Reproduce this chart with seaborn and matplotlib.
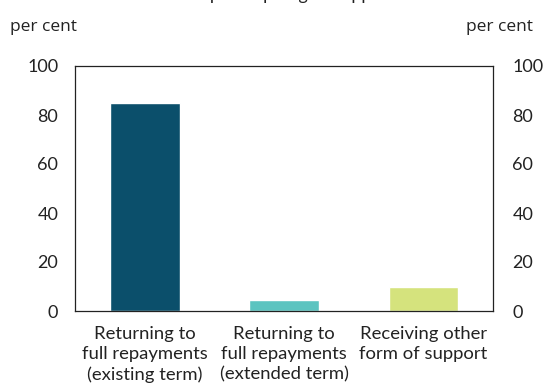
import pandas as pd
import numpy as np
import matplotlib.pyplot as plt
import seaborn as sns

# Data
categories = ['Returning to\nfull repayments\n(existing term)',
              'Returning to\nfull repayments\n(extended term)',
              'Receiving other\nform of support']
shares = [85, 4.5, 10]
colours = ['#0b4f6b', '#5cc4c0', '#d5e37d']
yticks = [0, 20, 40, 60, 80, 100]

df = pd.DataFrame({'category': categories, 'share': shares})

sns.set_style('white')
plt.rcParams['font.family'] = ['Lato', 'DejaVu Sans']

fig = plt.figure(figsize=(5.47, 3.87), dpi=100)
ax = fig.add_axes([75 / 547, 1 - 311 / 387, 418 / 547, 245 / 387])

sns.barplot(data=df, x='category', y='share', hue='category', palette=colours,
            width=0.5, legend=False, ax=ax, saturation=1)

ax.set_ylim(0, 100)
ax.set_yticks(yticks)
ax.set_xlabel('')
ax.set_ylabel('')
ax.tick_params(axis='y', length=0, labelsize=13, colors='#222222', pad=12)
ax.tick_params(axis='x', length=0, labelsize=13.3, colors='#222222', pad=11)
for lbl in ax.get_xticklabels():
    lbl.set_linespacing(1.32)
for s in ax.spines.values():
    s.set_color('#222222')
    s.set_linewidth(0.9)

ax2 = ax.twinx()
ax2.set_ylim(0, 100)
ax2.set_yticks(yticks)
ax2.tick_params(axis='y', length=0, labelsize=13, colors='#222222', pad=14)
for s in ax2.spines.values():
    s.set_visible(False)

fig.text(10 / 547, 1 - 27 / 387, 'per cent', fontsize=12.5, color='#222222',
         va='center', family=['Open Sans', 'DejaVu Sans'])
fig.text(533 / 547, 1 - 27 / 387, 'per cent', fontsize=12.5, color='#222222',
         va='center', ha='right', family=['Open Sans', 'DejaVu Sans'])
# Title, cut off at the top edge in the reference (only descenders show)
fig.text(272 / 547, 1.0, 'Loans upon expiring of support', fontsize=13,
         color='#222222', va='baseline', ha='center')

fig.savefig('out.png', dpi=100)
